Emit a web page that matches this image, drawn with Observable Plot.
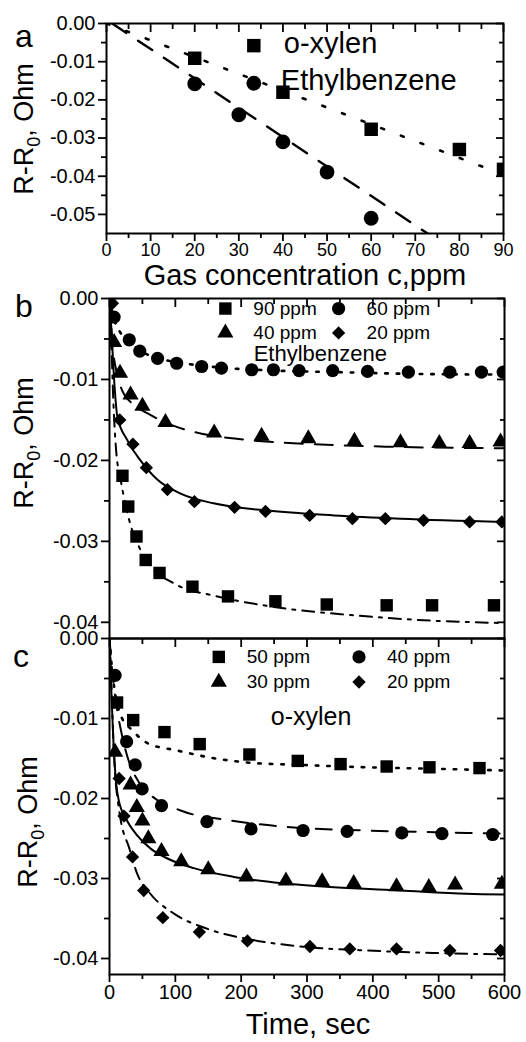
<!DOCTYPE html>
<html><head><meta charset="utf-8">
<script src="https://cdn.jsdelivr.net/npm/d3@7"></script>
<script src="https://cdn.jsdelivr.net/npm/@observablehq/plot@0.6"></script>
<style>
body{margin:0;background:#fff;}
#wrap{position:relative;width:526px;height:1042px;overflow:hidden;background:#fff;}
#wrap svg{position:absolute;left:0;overflow:visible;}
</style></head><body><div id="wrap"></div>
<script>
// ---------- Panel a: response vs gas concentration ----------
const aConcXylen = [20, 40, 60, 80, 90];
const aXylen     = [-0.0091, -0.0180, -0.0277, -0.0330, -0.0382];
const aConcEB    = [20, 30, 40, 50, 60];
const aEB        = [-0.0158, -0.0239, -0.0310, -0.0389, -0.0510];
const aFitXylenX = [0, 90];
const aFitXylenY = [0, -0.0396];
const aFitEBX    = [1.3, 72.8];
const aFitEBY    = [0, -0.055];

// ---------- Panel b: Ethylbenzene, time response ----------
const bT90 = [19.7, 28.5, 41, 55, 76, 126, 180, 252, 330, 421, 490, 584];
const bV90 = [-0.0219, -0.0257, -0.0294, -0.0323, -0.0339, -0.0356, -0.0368, -0.0374, -0.0378, -0.0379, -0.0379, -0.0379];
const bT60 = [7, 30, 46, 73, 102, 140, 170, 216, 249, 288, 339, 392, 454, 517, 565, 598];
const bV60 = [-0.0023, -0.0051, -0.0065, -0.0074, -0.0080, -0.0084, -0.0086, -0.0088, -0.0088, -0.0089, -0.0089, -0.0090, -0.0091, -0.0091, -0.0091, -0.0091];
const bT40 = [7, 16, 32, 50, 85, 159, 231, 302, 372, 442, 501, 547, 594];
const bV40 = [-0.0054, -0.0092, -0.0119, -0.0133, -0.0153, -0.0166, -0.0170, -0.0173, -0.0176, -0.0178, -0.0179, -0.0179, -0.0177];
const bT20 = [4.5, 15.6, 35.6, 56, 88, 129, 190, 237, 304, 369, 419, 477, 547, 596];
const bV20 = [-0.0006, -0.0150, -0.0180, -0.0209, -0.0236, -0.0251, -0.0258, -0.0263, -0.0268, -0.0272, -0.0272, -0.0274, -0.0276, -0.0276];

const bFit90T = [0, 3, 6, 10, 17, 30, 45, 63, 98, 164, 250, 366, 467, 600];
const bFit90V = [0, -0.006, -0.013, -0.0187, -0.0224, -0.0274, -0.0307, -0.0331, -0.0352, -0.0368, -0.0381, -0.0391, -0.0397, -0.0401];
const bFit60T = [0, 5, 15, 30, 50, 80, 120, 180, 250, 350, 450, 600];
const bFit60V = [0, -0.0020, -0.0040, -0.0053, -0.0066, -0.0075, -0.0081, -0.0086, -0.0089, -0.0091, -0.0093, -0.0094];
const bFit40T = [0, 5, 12, 20, 35, 58, 100, 140, 190, 260, 340, 420, 600];
const bFit40V = [0, -0.006, -0.0095, -0.0115, -0.0130, -0.0142, -0.0158, -0.0167, -0.0173, -0.0178, -0.0181, -0.0183, -0.0185];
const bFit20T = [0, 3, 7, 12, 27, 47, 73, 108, 158, 240, 341, 442, 600];
const bFit20V = [0, -0.004, -0.010, -0.0146, -0.0175, -0.0200, -0.0224, -0.0241, -0.0253, -0.0262, -0.0268, -0.0272, -0.0276];

// ---------- Panel c: o-xylen, time response ----------
const cT50 = [11.5, 36, 83.5, 137, 212.5, 286, 351, 421, 486, 562];
const cV50 = [-0.0080, -0.0102, -0.0117, -0.0132, -0.0145, -0.0153, -0.0157, -0.0160, -0.0161, -0.0162];
const cT40 = [8.5, 26, 39, 49.5, 79, 148, 215, 294, 361, 444, 505, 582];
const cV40 = [-0.0046, -0.0129, -0.0158, -0.0188, -0.0209, -0.0229, -0.0238, -0.0240, -0.0241, -0.0243, -0.0244, -0.0245];
const cT30 = [8.5, 32, 41.5, 50, 59, 79, 109, 150, 208, 268, 323, 371, 436, 485, 525, 596];
const cV30 = [-0.0142, -0.0183, -0.0211, -0.0228, -0.0250, -0.0266, -0.0279, -0.0289, -0.0298, -0.0303, -0.0304, -0.0306, -0.0310, -0.0311, -0.0308, -0.0307];
const cT20 = [14.6, 22, 35, 52, 81, 136.5, 209.5, 304.5, 365, 436, 517, 594];
const cV20 = [-0.0175, -0.0222, -0.0273, -0.0315, -0.0349, -0.0367, -0.0378, -0.0385, -0.0388, -0.0388, -0.0390, -0.0390];

const cFit50T = [0, 4, 10, 17, 35, 58, 103, 154, 209, 290, 391, 500, 600];
const cFit50V = [0, -0.004, -0.0075, -0.0096, -0.0115, -0.0131, -0.0140, -0.0149, -0.0155, -0.0158, -0.0161, -0.0163, -0.0165];
const cFit40T = [0, 4, 10, 20, 30, 45, 63, 108, 189, 275, 391, 543, 600];
const cFit40V = [0, -0.004, -0.008, -0.0125, -0.0155, -0.0180, -0.0196, -0.0215, -0.0228, -0.0236, -0.0240, -0.0243, -0.0244];
const cFit30T = [0, 3, 6, 10, 14, 25, 42, 63, 88, 128, 189, 265, 341, 442, 543, 600];
const cFit30V = [0, -0.007, -0.013, -0.018, -0.0202, -0.0225, -0.0246, -0.0263, -0.0275, -0.0287, -0.0298, -0.0306, -0.0311, -0.0315, -0.0319, -0.0320];
const cFit20T = [0, 3, 6, 9, 13, 17, 30, 42, 60, 98, 149, 219, 290, 391, 492, 600];
const cFit20V = [0, -0.006, -0.013, -0.0175, -0.0205, -0.0227, -0.0262, -0.0294, -0.0317, -0.0344, -0.0363, -0.0377, -0.0385, -0.0390, -0.0393, -0.0395];

// ---------- tick values ----------
const aXMajor = [0, 10, 20, 30, 40, 50, 60, 70, 80, 90];
const aXMinor = [5, 15, 25, 35, 45, 55, 65, 75, 85];
const aYMajor = [0, -0.01, -0.02, -0.03, -0.04, -0.05];
const aYMinor = [-0.005, -0.015, -0.025, -0.035, -0.045];
const tXMajor = [0, 100, 200, 300, 400, 500, 600];
const tXMinor = [50, 150, 250, 350, 450, 550];
const tYMajor = [0, -0.01, -0.02, -0.03, -0.04];
const tYMinor = [-0.005, -0.015, -0.025, -0.035];

// ---------- labels ----------
const legendB = ["90 ppm", "60 ppm", "40 ppm", "20 ppm"];
const legendC = ["50 ppm", "40 ppm", "30 ppm", "20 ppm"];
const seriesA = ["o-xylen", "Ethylbenzene"];

const FONT = "'Liberation Sans', Arial, Helvetica, sans-serif";
const SW = 1.8;
const R = {square: 7, circle: 6.6, triangle: 6, diamond2: 6};

function axes({xMajor, xMinor, yMajor, yMinor, xLabels, bottomTicks, xFont = 20}) {
  const blank = () => "";
  const m = [
    // left: outward, labelled
    Plot.axisY(yMajor, {anchor: "left", tickSize: 8, tickPadding: 3, tickFormat: d => d.toFixed(2), label: null, fontSize: 20, strokeWidth: SW}),
    Plot.axisY(yMinor, {anchor: "left", tickSize: 5, tickFormat: blank, label: null, strokeWidth: SW}),
    // right: mirrored ticks pointing inward
    Plot.axisY(yMajor, {anchor: "right", tickSize: 8, dx: -8, tickFormat: blank, label: null, strokeWidth: SW}),
    Plot.axisY(yMinor, {anchor: "right", tickSize: 5, dx: -5, tickFormat: blank, label: null, strokeWidth: SW}),
    // top: mirrored ticks pointing inward
    Plot.axisX(xMajor, {anchor: "top", tickSize: 8, dy: 8, tickFormat: blank, label: null, strokeWidth: SW}),
    Plot.axisX(xMinor, {anchor: "top", tickSize: 5, dy: 5, tickFormat: blank, label: null, strokeWidth: SW})
  ];
  if (bottomTicks) {
    m.push(Plot.axisX(xMajor, {anchor: "bottom", tickSize: 8, tickPadding: 2, tickFormat: xLabels ? (d => String(d)) : blank, label: null, fontSize: xFont, strokeWidth: SW}));
    m.push(Plot.axisX(xMinor, {anchor: "bottom", tickSize: 5, tickFormat: blank, label: null, strokeWidth: SW}));
  }
  m.push(Plot.frame({stroke: "black", strokeWidth: 2}));
  return m;
}

function series(xs, ys, symbol) {
  return Plot.dot(xs, {x: d => d, y: ys, symbol, r: R[symbol], fill: "black", stroke: "none", clip: true});
}
function legendDot(x, y, symbol) {
  return Plot.dot([x], {x: d => d, y: [y], symbol, r: R[symbol], fill: "black", stroke: "none"});
}
function fit(xs, ys, dash, w = 2) {
  return Plot.line(xs, {x: d => d, y: ys, stroke: "black", strokeWidth: w, strokeDasharray: dash, curve: "monotone-x", clip: true});
}

function yLabel(svg, x, y) {
  const t = svg.append("text")
    .attr("transform", `translate(${x},${y}) rotate(-90)`)
    .attr("text-anchor", "middle")
    .attr("font-family", FONT).attr("font-size", 27).attr("fill", "black");
  t.append("tspan").text("R-R");
  t.append("tspan").attr("font-size", 18).attr("dy", 7).text("0");
  t.append("tspan").attr("dy", -7).text(", Ohm");
}
function addText(svg, x, y, s, size, anchor = "start") {
  svg.append("text").attr("x", x).attr("y", y).attr("text-anchor", anchor)
    .attr("font-family", FONT).attr("font-size", size).attr("fill", "black").text(s);
}

const wrap = document.getElementById("wrap");
const baseStyle = {fontFamily: FONT, fontSize: "18px", background: "transparent", overflow: "visible", color: "black"};

// ---- Panel a ----
const pa = Plot.plot({
  width: 526, height: 290,
  marginTop: 23, marginBottom: 57, marginLeft: 106, marginRight: 23,
  style: baseStyle,
  x: {domain: [0, 90]},
  y: {domain: [-0.055, 0]},
  marks: [
    fit(aFitXylenX, aFitXylenY, "3,18", 2.6),
    fit(aFitEBX, aFitEBY, "17,14", 2.4),
    Plot.dot(aConcXylen, {x: d => d, y: aXylen, symbol: "square", r: 7.6, fill: "black", clip: true}),
    Plot.dot(aConcEB, {x: d => d, y: aEB, symbol: "circle", r: 7.4, fill: "black", clip: true}),
    Plot.dot([33.4], {x: d => d, y: [-0.0058], symbol: "square", r: 7.6, fill: "black"}),
    Plot.dot([33.4], {x: d => d, y: [-0.01565], symbol: "circle", r: 7.4, fill: "black"}),
    Plot.text([seriesA[0]], {x: [33.4], y: [-0.0053], text: d => d, dx: 30, textAnchor: "start", fontSize: 29}),
    Plot.text([seriesA[1]], {x: [33.4], y: [-0.0150], text: d => d, dx: 27, textAnchor: "start", fontSize: 29}),
    ...axes({xMajor: aXMajor, xMinor: aXMinor, yMajor: aYMajor, yMinor: aYMinor, xLabels: true, bottomTicks: true, xFont: 18})
  ]
});
pa.style.top = "0px";
wrap.appendChild(pa);
{
  const s = d3.select(pa);
  yLabel(s, 33, 129);
  addText(s, 15, 47, "a", 32);
  addText(s, 305, 285, "Gas concentration c,ppm", 29, "middle");
}

// ---- Panel b ----
const pb = Plot.plot({
  width: 526, height: 348,
  marginTop: 8, marginBottom: 0, marginLeft: 109, marginRight: 22,
  style: baseStyle,
  x: {domain: [0, 600], axis: null},
  y: {domain: [-0.042, 0]},
  marks: [
    fit(bFit90T, bFit90V, "12,7,3,7", 2),
    fit(bFit60T, bFit60V, "2.5,9", 2.6),
    fit(bFit40T, bFit40V, "18,12", 2),
    fit(bFit20T, bFit20V, null, 2),
    series(bT90, bV90, "square"),
    series(bT60, bV60, "circle"),
    series(bT40, bV40, "triangle"),
    series(bT20, bV20, "diamond2"),
    legendDot(176, -0.00124, "square"),
    legendDot(348, -0.00124, "circle"),
    legendDot(176, -0.00425, "triangle"),
    legendDot(348, -0.00425, "diamond2"),
    Plot.text(legendB, {x: [176, 348, 176, 348], y: [-0.00124, -0.00124, -0.00425, -0.00425], text: d => d, dx: 28, textAnchor: "start", fontSize: 19}),
    Plot.text(["Ethylbenzene"], {x: [219], y: [-0.0068], text: d => d, textAnchor: "start", fontSize: 22}),
    ...axes({xMajor: tXMajor, xMinor: tXMinor, yMajor: tYMajor, yMinor: tYMinor, xLabels: false, bottomTicks: false})
  ]
});
pb.style.top = "290px";
wrap.appendChild(pb);
{
  const s = d3.select(pb);
  yLabel(s, 33, 153);
  addText(s, 15, 27, "b", 32);
}

// ---- Panel c ----
const pc = Plot.plot({
  width: 526, height: 404,
  marginTop: 0, marginBottom: 68, marginLeft: 109, marginRight: 22,
  style: baseStyle,
  x: {domain: [0, 600]},
  y: {domain: [-0.042, 0]},
  marks: [
    fit(cFit50T, cFit50V, "2.5,9", 2.6),
    fit(cFit40T, cFit40V, "16,12", 2),
    fit(cFit30T, cFit30V, null, 2),
    fit(cFit20T, cFit20V, "12,7,3,7", 2),
    series(cT50, cV50, "square"),
    series(cT40, cV40, "circle"),
    series(cT30, cV30, "triangle"),
    series(cT20, cV20, "diamond2"),
    legendDot(166, -0.0023, "square"),
    legendDot(379, -0.0023, "circle"),
    legendDot(166, -0.00544, "triangle"),
    legendDot(379, -0.00544, "diamond2"),
    Plot.text(legendC, {x: [166, 379, 166, 379], y: [-0.0023, -0.0023, -0.00544, -0.00544], text: d => d, dx: 28, textAnchor: "start", fontSize: 19}),
    Plot.text(["o-xylen"], {x: [245], y: [-0.00985], text: d => d, textAnchor: "start", fontSize: 25}),
    ...axes({xMajor: tXMajor, xMinor: tXMinor, yMajor: tYMajor, yMinor: tYMinor, xLabels: true, bottomTicks: true})
  ]
});
pc.style.top = "638px";
wrap.appendChild(pc);
{
  const s = d3.select(pc);
  yLabel(s, 37, 184);
  addText(s, 13, 29, "c", 32);
  addText(s, 308, 396, "Time, sec", 29, "middle");
}
</script></body></html>
